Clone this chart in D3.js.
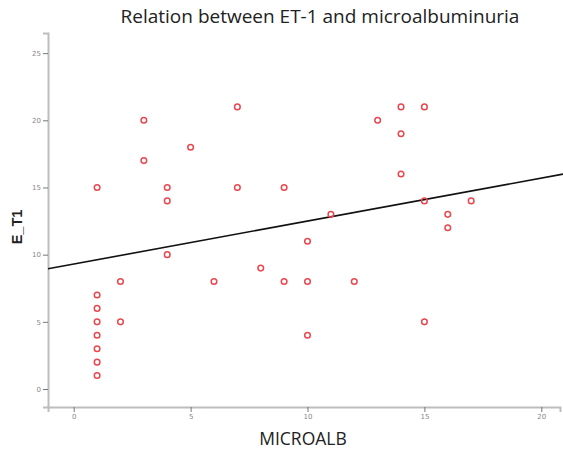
<!DOCTYPE html>
<html>
<head>
<meta charset="utf-8">
<script src="https://cdn.jsdelivr.net/npm/d3@7"></script>
<style>
  body { margin: 0; background: #fff; }
  svg { display: block; }
</style>
</head>
<body>
<div id="chart"></div>
<script>
// MICROALB vs E_T1 values
const microalb = [1, 1, 1, 1, 1, 1, 1, 1, 2, 2, 3, 3, 4, 4, 4, 5, 6, 7, 7, 8, 9, 9,
  10, 10, 10, 11, 12, 13, 14, 14, 14, 15, 15, 15, 16, 16, 17];
const et1 = [1, 2, 3, 4, 5, 6, 7, 15, 8, 5, 20, 17, 15, 14, 10, 18, 8, 21, 15, 9, 15, 8,
  11, 8, 4, 13, 8, 20, 21, 19, 16, 21, 14, 5, 13, 12, 14];
const xTicks = [0, 5, 10, 15, 20];
const yTicks = [0, 5, 10, 15, 20, 25];
// fit line as drawn in the reference
const fitIntercept = 9.3;
const fitSlope = 0.32;

const width = 563, height = 449;
const plotLeft = 48, plotRight = 560, plotTop = 33, plotBottom = 407;

const x = d3.scaleLinear().domain([-1.1, 20.8]).range([plotLeft, plotRight]);
const y = d3.scaleLinear().domain([-1.34, 26.5]).range([plotBottom, plotTop]);

const svg = d3.select('#chart').append('svg')
  .attr('width', width)
  .attr('height', height);

svg.append('text')
  .attr('x', 320).attr('y', 23)
  .attr('text-anchor', 'middle')
  .style('font-family', 'Open Sans, sans-serif')
  .style('font-size', '19px')
  .style('fill', '#222')
  .text('Relation between ET-1 and microalbuminuria');

// axes
const xAxis = svg.append('g')
  .attr('transform', `translate(0,${plotBottom})`)
  .call(d3.axisBottom(x).tickValues(xTicks).tickSize(5).tickPadding(2));
const yAxis = svg.append('g')
  .attr('transform', `translate(${plotLeft},0)`)
  .call(d3.axisLeft(y).tickValues(yTicks).tickSize(5).tickPadding(2));

[xAxis, yAxis].forEach(g => {
  g.select('.domain').attr('stroke', '#bdbdbd').attr('stroke-width', 2);
  g.selectAll('.tick line').attr('stroke', '#777').attr('stroke-width', 1);
  g.selectAll('.tick text')
    .style('font-family', 'DejaVu Sans, sans-serif')
    .style('font-size', '7px')
    .style('fill', '#888');
});

svg.append('text')
  .attr('x', 303).attr('y', 445)
  .attr('text-anchor', 'middle')
  .style('font-family', 'Open Sans, sans-serif')
  .style('font-size', '17.5px')
  .style('fill', '#222')
  .text('MICROALB');

svg.append('text')
  .attr('transform', 'translate(22,227) rotate(-90)')
  .attr('text-anchor', 'middle')
  .style('font-family', 'Liberation Sans, sans-serif')
  .style('font-size', '14.5px')
  .style('font-weight', 'bold')
  .style('fill', '#222')
  .text('E_T1');

// regression line, run a little past the plot edge like the reference
const xs = [x.domain()[0], x.invert(width)];
svg.append('line')
  .attr('x1', x(xs[0])).attr('y1', y(fitIntercept + fitSlope * xs[0]))
  .attr('x2', x(xs[1])).attr('y2', y(fitIntercept + fitSlope * xs[1]))
  .attr('stroke', '#111')
  .attr('stroke-width', 1.6);

// points
svg.append('g').selectAll('circle')
  .data(microalb.map((m, i) => [m, et1[i]]))
  .join('circle')
  .attr('cx', d => x(d[0]))
  .attr('cy', d => y(d[1]))
  .attr('r', 2.8)
  .attr('fill', 'none')
  .attr('stroke', '#e9464e')
  .attr('stroke-width', 1.5);
</script>
</body>
</html>
